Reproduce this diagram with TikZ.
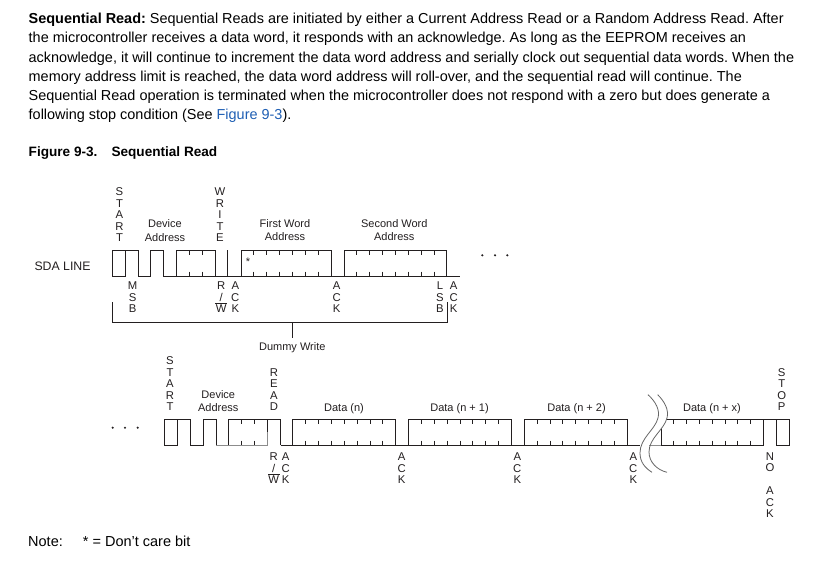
\documentclass[tikz,border=0pt]{standalone}
\usepackage{fontspec}
\setmainfont{Liberation Sans}
\frenchspacing
\definecolor{ink}{HTML}{231F20}
\definecolor{linkblue}{HTML}{1F5FB4}
\tikzset{
  bodyline/.style={anchor=base west,inner sep=0pt,font=\fontsize{14.45}{17}\selectfont,text=black},
  capline/.style={anchor=base west,inner sep=0pt,font=\fontsize{13.6}{16}\selectfont\bfseries,text=black},
  notetext/.style={anchor=base west,inner sep=0pt,font=\fontsize{14.5}{17}\selectfont,text=black},
  vlab/.style={anchor=south,inner sep=0pt,align=center,font=\fontsize{11.3}{11.5}\selectfont,text=ink},
  hlab/.style={anchor=base,inner sep=0pt,font=\fontsize{11}{14}\selectfont,text=ink},
  wave/.style={draw=ink,line width=1pt,line join=miter},
  tick/.style={draw=ink,line width=0.8pt},
  greyline/.style={draw=black!45,line width=1pt},
  breakline/.style={draw=black!60,line width=0.8pt},
  dotmark/.style={circle,fill=ink,inner sep=0pt,minimum size=2.4pt}
}
\newcommand{\tickset}[3]{% list, top y, bottom y
  \foreach \tx in {#1} {
    \draw[tick] (\tx,#2) -- (\tx,#2+4.8);
    \draw[tick] (\tx,#3-4.8) -- (\tx,#3);
  }}
\begin{document}
\begin{tikzpicture}[x=1pt,y=-1pt]
\useasboundingbox (0,0) rectangle (839,567);
\fill[white] (0,0) rectangle (839,567);

% paragraph
\node[bodyline] (p1) at (28.5,23.4) {\textbf{Sequential Read:} Sequential Reads are initiated by either a Current Address Read or a Random Address Read. After};
\node[bodyline] (p2) at (28.5,42.9) {the microcontroller receives a data word, it responds with an acknowledge. As long as the EEPROM receives an};
\node[bodyline] (p3) at (28.5,62.2) {acknowledge, it will continue to increment the data word address and serially clock out sequential data words. When the};
\node[bodyline] (p4) at (28.5,81.4) {memory address limit is reached, the data word address will roll-over, and the sequential read will continue. The};
\node[bodyline] (p5) at (28.5,100.4) {Sequential Read operation is terminated when the microcontroller does not respond with a zero but does generate a};
\node[bodyline] (p6) at (28.5,119.7) {following stop condition (See \textcolor{linkblue}{Figure 9-3}).};
\node[capline] (c1) at (28.5,156.7) {Figure 9-3.};
\node[capline] (c2) at (111.3,156.7) {Sequential Read};

% first row waveform
\draw[wave] (112.3,250.3) rectangle (125.3,276.3);
\draw[wave] (125.3,250.3) -- (138.3,250.3) -- (138.3,276.3) -- (150.7,276.3) -- (150.7,250.3) -- (163.7,250.3) -- (163.7,276.3) -- (176.3,276.3);
\draw[wave] (176.3,276.3) -- (176.3,250.3) -- (215.3,250.3) -- (215.3,276.3);
\draw[wave] (176.3,276.3) -- (460,276.3);
\draw[wave] (227.3,250.3) -- (227.3,276.3);
\draw[wave] (241.3,276.3) -- (241.3,250.3) -- (331.7,250.3) -- (331.7,276.3);
\draw[wave] (344.3,276.3) -- (344.3,250.3) -- (446.3,250.3) -- (446.3,276.3);
\tickset{189.3,202.3}{250.3}{276.3}
\tickset{253.3,266.7,279.3,292.3,305.7,318.7}{250.3}{276.3}
\tickset{356.3,369.3,382.3,395.7,408.7,421.7,434.7}{250.3}{276.3}
\node[inner sep=0pt,font=\fontsize{11}{11}\selectfont,text=ink] (star) at (248,262) {*};

% first row labels
\node[vlab] (start1) at (119.5,241.9) {S\\T\\A\\R\\T};
\node[vlab] (write1) at (220,241.9) {W\\R\\I\\T\\E};
\node[hlab] (dev1a) at (165,227.5) {Device};
\node[hlab] (dev1b) at (165,241) {Address};
\node[hlab] (fw1a) at (285,227.2) {First Word};
\node[hlab] (fw1b) at (285,240.7) {Address};
\node[hlab] (sw1a) at (394.3,227.2) {Second Word};
\node[hlab] (sw1b) at (394.3,240.7) {Address};
\node[anchor=base west,inner sep=0pt,font=\fontsize{12.3}{14}\selectfont,text=ink] (sda) at (34.3,270) {SDA LINE};
\node[vlab] (msb) at (132.7,312.7) {M\\S\\B};
\node[vlab] (rw1) at (221.3,312.7) {R\\/\\W};
\node[vlab] (ack1) at (235.3,312.7) {A\\C\\K};
\node[vlab] (ack2) at (336.7,312.7) {A\\C\\K};
\node[vlab] (lsb) at (440,312.7) {L\\S\\B};
\node[vlab] (ack3) at (453.7,312.7) {A\\C\\K};
\draw[tick] (215.3,303.3) -- (227.3,303.3);
\foreach \dx/\dn in {482.3/a,495/b,507.3/c} \node[dotmark] (dot1\dn) at (\dx,255.3) {};

% bracket
\coordinate (brL) at (112.3,302.3);
\coordinate (brR) at (447.3,302);
\coordinate (stemT) at (292.3,322.3);
\node[hlab] (dummy) at (292.3,350) {Dummy Write};
\draw[wave] (brL) -- (112.3,322.3) -- (447.3,322.3) -- (brR);
\draw[wave] (stemT) -- (292.3,337.7);

% second row waveform
\draw[wave] (164.7,419.3) rectangle (177.7,445.3);
\draw[wave] (177.7,419.3) -- (190.7,419.3) -- (190.7,445.3) -- (203.3,445.3) -- (203.3,419.3) -- (216,419.3) -- (216,445.3);
\draw[greyline] (216,445.3) -- (267.3,445.3) -- (267.3,432);
\draw[wave] (228.7,445.3) -- (228.7,419.3) -- (280.7,419.3) -- (280.7,445.3);
\draw[wave] (267.3,419.3) -- (267.3,432);
\draw[wave] (280.7,445.3) -- (640,445.3);
\draw[wave] (292.7,445.3) -- (292.7,419.3) -- (395.7,419.3) -- (395.7,445.3);
\draw[wave] (408.3,445.3) -- (408.3,419.3) -- (511.7,419.3) -- (511.7,445.3);
\draw[wave] (524.3,445.3) -- (524.3,419.3) -- (627.7,419.3) -- (627.7,445.3);
\draw[wave] (661,445.3) -- (661,419.3) -- (789.3,419.3) -- (789.3,445.3) -- (776.3,445.3) -- (776.3,419.3);
\draw[wave] (661,445.3) -- (763.7,445.3) -- (763.7,419.3);
\tickset{241.3,254.3}{419.3}{445.3}
\tickset{305.3,318.7,331.7,344.3,357.3,370.3,382.7}{419.3}{445.3}
\tickset{421.3,434.3,447.3,460,472.3,485.3,498.3}{419.3}{445.3}
\tickset{537.3,550.3,562.7,575.3,588.3,601.3,614.3}{419.3}{445.3}
\tickset{673.3,686.7,699.3,712.3,725,737.7,750.3}{419.3}{445.3}

% break mark
\fill[white] (648,394.7) .. controls (656,402) and (660,410) .. (658,418) .. controls (655,430) and (640,438) .. (640,453) .. controls (640,462) and (645,468) .. (652,472.3)
  -- (667,472.3) .. controls (657,470) and (649,462) .. (649,452) .. controls (649,438) and (664,430) .. (667,418) .. controls (669,410) and (665,402) .. (657.7,394.7) -- cycle;
\draw[greyline] (649,445.3) -- (661,445.3);
\draw[breakline] (648,394.7) .. controls (656,402) and (660,410) .. (658,418) .. controls (655,430) and (640,438) .. (640,453) .. controls (640,462) and (645,468) .. (652,472.3);
\draw[breakline] (657.7,394.7) .. controls (665,402) and (669,410) .. (667,418) .. controls (664,430) and (649,438) .. (649,452) .. controls (649,462) and (657,470) .. (667,472.3);

% second row labels
\node[vlab] (start2) at (170,411) {S\\T\\A\\R\\T};
\node[vlab] (read2) at (274,411) {R\\E\\A\\D};
\node[hlab] (dev2a) at (218.3,398.3) {Device};
\node[hlab] (dev2b) at (218.3,411) {Address};
\node[hlab] (dn) at (344,411) {Data (n)};
\node[hlab] (dn1) at (459.5,411) {Data (n + 1)};
\node[hlab] (dn2) at (576.5,411) {Data (n + 2)};
\node[hlab] (dnx) at (712,411) {Data (n + x)};
\node[vlab] (stop) at (781.7,410.7) {S\\T\\O\\P};
\node[vlab] (rw2) at (273.7,484) {R\\/\\W};
\node[vlab] (ack4) at (285.7,484) {A\\C\\K};
\node[vlab] (ack5) at (401.7,484) {A\\C\\K};
\node[vlab] (ack6) at (517.3,484) {A\\C\\K};
\node[vlab] (ack7) at (633.3,484) {A\\C\\K};
\node[vlab] (noack) at (770,517.7) {N\\O\\[11.5pt]A\\C\\K};
\draw[tick] (268,474.3) -- (280,474.3);
\foreach \dx/\dn in {112.7/a,125/b,137.7/c} \node[dotmark] (dot2\dn) at (\dx,427.7) {};

% note
\node[notetext] (note) at (28,546.7) {Note:};
\node[notetext] (notetxt) at (82.7,546.7) {* = Don’t care bit};
\end{tikzpicture}
\end{document}
